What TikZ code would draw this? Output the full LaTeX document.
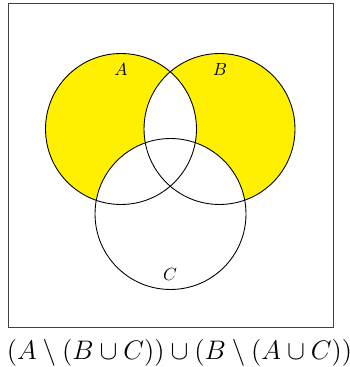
\documentclass[tikz,border=0pt]{standalone}
\begin{document}
\begin{tikzpicture}[x=0.02cm,y=-0.02cm,
  setline/.style={draw=black,line width=0.5pt},
  framebox/.style={draw=black!75,line width=0.5pt},
  setlabel/.style={inner sep=0pt,font=\normalsize}]
\definecolor{vennyellow}{RGB}{255,240,0}
\useasboundingbox (0,0) rectangle (349,367);
\coordinate (cA) at (121,129);
\coordinate (cB) at (219.5,129);
\coordinate (cC) at (170.5,214);
\def\rad{1.51cm}
% shading
\fill[vennyellow] (cA) circle[radius=\rad];
\fill[vennyellow] (cB) circle[radius=\rad];
\fill[white] (cC) circle[radius=\rad];
\begin{scope}
  \clip (cA) circle[radius=\rad];
  \fill[white] (cB) circle[radius=\rad];
\end{scope}
% outlines
\draw[setline] (cA) circle[radius=\rad];
\draw[setline] (cB) circle[radius=\rad];
\draw[setline] (cC) circle[radius=\rad];
\draw[framebox] (8,3) rectangle (333,327.5);
% labels
\node[setlabel] (lA) at (121,70) {$A$};
\node[setlabel] (lB) at (220,70) {$B$};
\node[setlabel] (lC) at (170,274) {$C$};
\node[inner sep=0pt,anchor=base west,scale=1.06,font=\Large] (formula) at (6.5,359.5)
  {$(A\setminus(B\cup C))\cup(B\setminus(A\cup C))$};
\end{tikzpicture}
\end{document}
